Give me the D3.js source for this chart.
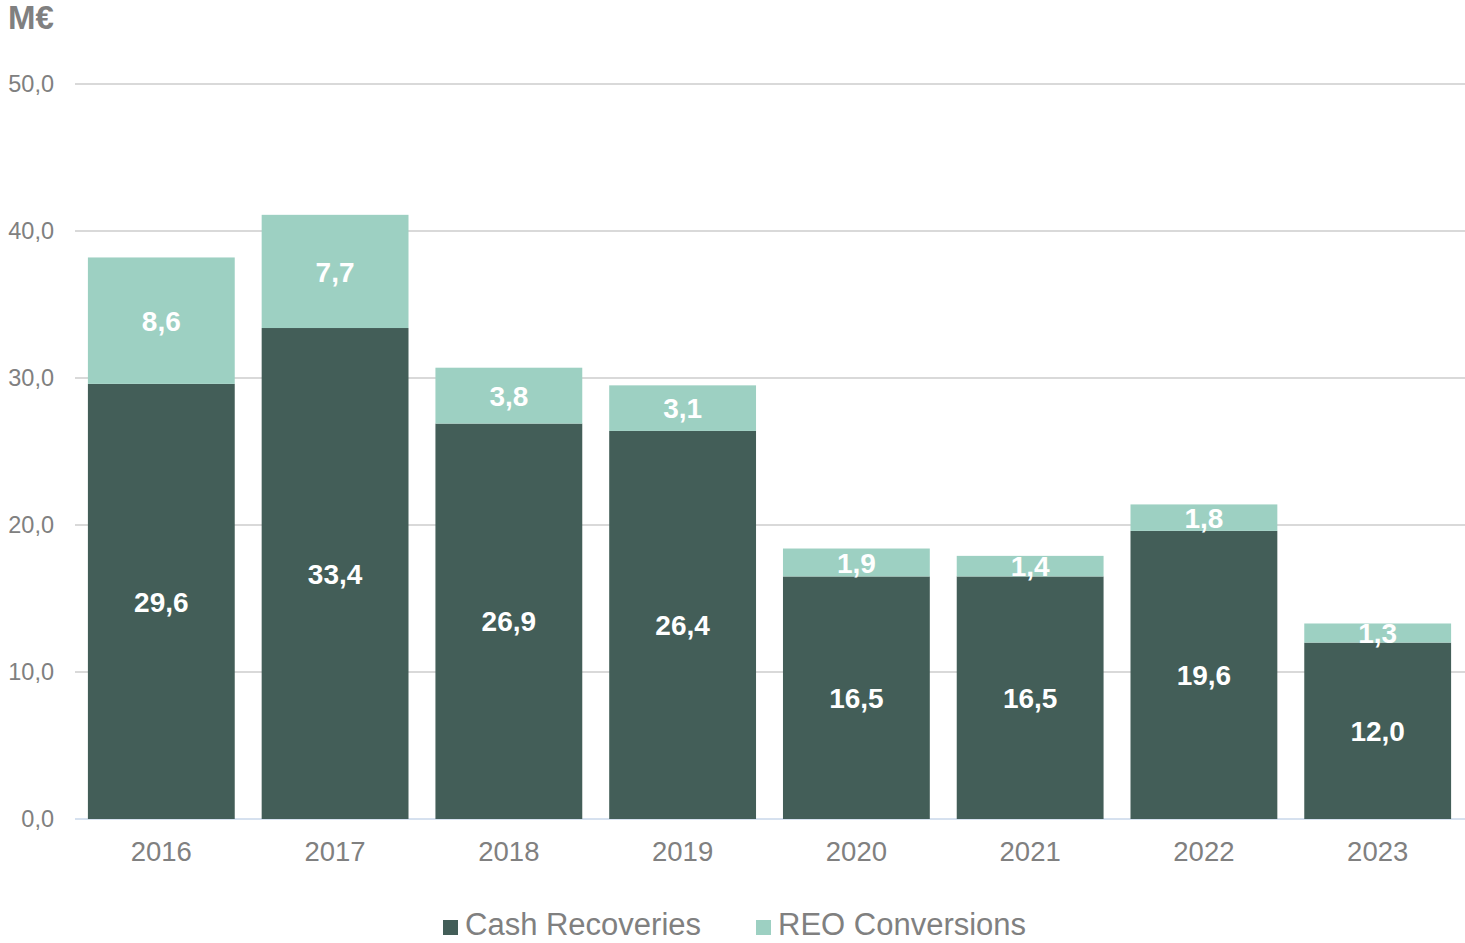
<!DOCTYPE html>
<html>
<head>
<meta charset="utf-8">
<script src="https://cdn.jsdelivr.net/npm/d3@7"></script>
<style>
  body { margin: 0; background: #fff; }
  svg { display: block; font-family: "Liberation Sans", Arial, sans-serif; }
</style>
</head>
<body>
<script>
const years = ["2016", "2017", "2018", "2019", "2020", "2021", "2022", "2023"];
const cashRecoveries = [29.6, 33.4, 26.9, 26.4, 16.5, 16.5, 19.6, 12.0];
const reoConversions = [8.6, 7.7, 3.8, 3.1, 1.9, 1.4, 1.8, 1.3];
const seriesNames = ["Cash Recoveries", "REO Conversions"];
const seriesColors = ["#435e58", "#9dd0c2"];
const yTicks = [0, 10, 20, 30, 40, 50];

const width = 1465;
const height = 943;
const margin = { top: 84, right: 0, bottom: 124, left: 74 };

const fmt = (v) => v.toFixed(1).replace(".", ",");

const svg = d3
  .select("body")
  .append("svg")
  .attr("width", width)
  .attr("height", height);

const x = d3
  .scaleBand()
  .domain(years)
  .range([margin.left, width - margin.right])
  .paddingInner(0.155)
  .paddingOuter(0.08);

const y = d3
  .scaleLinear()
  .domain([0, 50])
  .range([height - margin.bottom, margin.top]);

// Gridlines
svg
  .append("g")
  .selectAll("line")
  .data(yTicks)
  .join("line")
  .attr("x1", margin.left + 1)
  .attr("x2", width)
  .attr("y1", (d) => y(d))
  .attr("y2", (d) => y(d))
  .attr("stroke", (d) => (d === 0 ? "#d6e1ef" : "#d9d9d9"))
  .attr("stroke-width", 2);

// Y axis labels
const yAxis = svg
  .append("g")
  .attr("transform", `translate(${margin.left - 20},0)`)
  .call(d3.axisLeft(y).tickValues(yTicks).tickFormat(fmt).tickSize(0).tickPadding(0));
yAxis.select(".domain").remove();
yAxis
  .selectAll("text")
  .attr("fill", "#808080")
  .attr("font-size", 23.5)
  .attr("font-family", "Liberation Sans, Arial, sans-serif");

// Unit label
svg
  .append("text")
  .attr("x", 8)
  .attr("y", 29)
  .attr("fill", "#808080")
  .attr("font-size", 33)
  .attr("font-weight", "bold")
  .text("M€");

// Stacked data
const rows = years.map((yr, i) => ({
  year: yr,
  cash: cashRecoveries[i],
  reo: reoConversions[i],
}));
const stack = d3.stack().keys(["cash", "reo"])(rows);

const groups = svg
  .append("g")
  .selectAll("g")
  .data(stack)
  .join("g")
  .attr("fill", (d, i) => seriesColors[i]);

groups
  .selectAll("rect")
  .data((d) => d)
  .join("rect")
  .attr("x", (d) => x(d.data.year))
  .attr("width", x.bandwidth())
  .attr("y", (d) => y(d[1]))
  .attr("height", (d) => y(d[0]) - y(d[1]));

// Value labels
groups
  .selectAll("text")
  .data((d) => d)
  .join("text")
  .attr("x", (d) => x(d.data.year) + x.bandwidth() / 2)
  .attr("y", (d) => y((d[0] + d[1]) / 2))
  .attr("dy", "0.36em")
  .attr("text-anchor", "middle")
  .attr("fill", "#ffffff")
  .attr("font-size", 28)
  .attr("font-weight", "bold")
  .text((d) => fmt(d[1] - d[0]));

// X axis labels
const xAxis = svg
  .append("g")
  .attr("transform", `translate(0,${y(0)})`)
  .call(d3.axisBottom(x).tickSize(0).tickPadding(22));
xAxis.select(".domain").remove();
xAxis
  .selectAll("text")
  .attr("fill", "#808080")
  .attr("font-size", 27.5)
  .attr("font-family", "Liberation Sans, Arial, sans-serif");

// Legend
const legend = svg.append("g");
const legendItems = [
  { name: seriesNames[0], color: seriesColors[0], x: 443 },
  { name: seriesNames[1], color: seriesColors[1], x: 756 },
];
const li = legend
  .selectAll("g")
  .data(legendItems)
  .join("g")
  .attr("transform", (d) => `translate(${d.x},${920})`);
li.append("rect")
  .attr("width", 15)
  .attr("height", 15)
  .attr("fill", (d) => d.color);
li.append("text")
  .attr("x", 22)
  .attr("y", 15)
  .attr("fill", "#808080")
  .attr("font-size", 31)
  .text((d) => d.name);
</script>
</body>
</html>
